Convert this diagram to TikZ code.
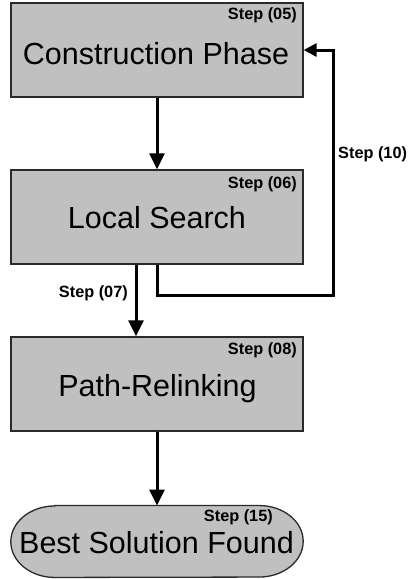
\documentclass[tikz,border=0pt]{standalone}
\usepackage{fontspec}
\setmainfont{Liberation Sans}
\usetikzlibrary{arrows.meta}
\definecolor{boxgray}{HTML}{C0C0C0}
\definecolor{edgegray}{HTML}{2A2A2A}
\begin{document}
\begin{tikzpicture}[x=1pt,y=-1pt,
  stage/.style={draw=edgegray, line width=1.3pt, fill=boxgray, minimum width=292pt, minimum height=94pt, inner sep=0pt},
  final/.style={minimum width=292pt, minimum height=71.5pt, inner sep=0pt},
  finalshape/.style={draw=edgegray, line width=1.3pt, fill=boxgray},
  maintext/.style={font=\fontsize{30.5}{32}\selectfont, inner sep=0pt, anchor=base},
  steptext/.style={font=\fontsize{16.3}{18}\selectfont\bfseries, inner sep=0pt},
  arr/.style={line width=3pt, -{Triangle[length=16pt,width=15pt]}},
  fbarr/.style={line width=3pt, -{Triangle[length=13pt,width=13pt]}}]
\useasboundingbox (0,0) rectangle (410,579);
\node[stage] (c) at (157,50) {};
\node[stage] (l) at (157,217) {};
\node[stage] (p) at (157,384) {};
\node[final] (b) at (157,541.5) {};
\draw[finalshape] ([xshift=44pt]b.north west) -- ([xshift=-44pt]b.north east)
  arc[start angle=90, end angle=-90, x radius=44pt, y radius=35.75pt]
  -- ([xshift=44pt]b.south west)
  arc[start angle=270, end angle=90, x radius=44pt, y radius=35.75pt] -- cycle;
\node[maintext] (ct) at (156,64) {Construction Phase};
\node[maintext] (lt) at (157,228) {Local Search};
\node[maintext] (pt) at (157.5,396) {Path-Relinking};
\node[maintext] (bt) at (156.5,553) {Best Solution Found};
\node[steptext, anchor=base east] (s05) at (297,19) {Step (05)};
\node[steptext, anchor=base east] (s06) at (297,188) {Step (06)};
\node[steptext, anchor=base east] (s08) at (297,354) {Step (08)};
\node[steptext, anchor=base east] (s15) at (273,521) {Step (15)};
\node[steptext, anchor=base west] (s10) at (338,158) {Step (10)};
\node[steptext, anchor=base east] (s07) at (128,297) {Step (07)};
\coordinate (fb) at (333,295);
\draw[arr] (c.south) -- (l.north);
\draw[arr] ([xshift=-21pt]l.south) -- ([xshift=-21pt]p.north);
\draw[arr] (p.south) -- (b.north);
\draw[fbarr] (l.south) |- (fb) |- (c.east);
\end{tikzpicture}
\end{document}
